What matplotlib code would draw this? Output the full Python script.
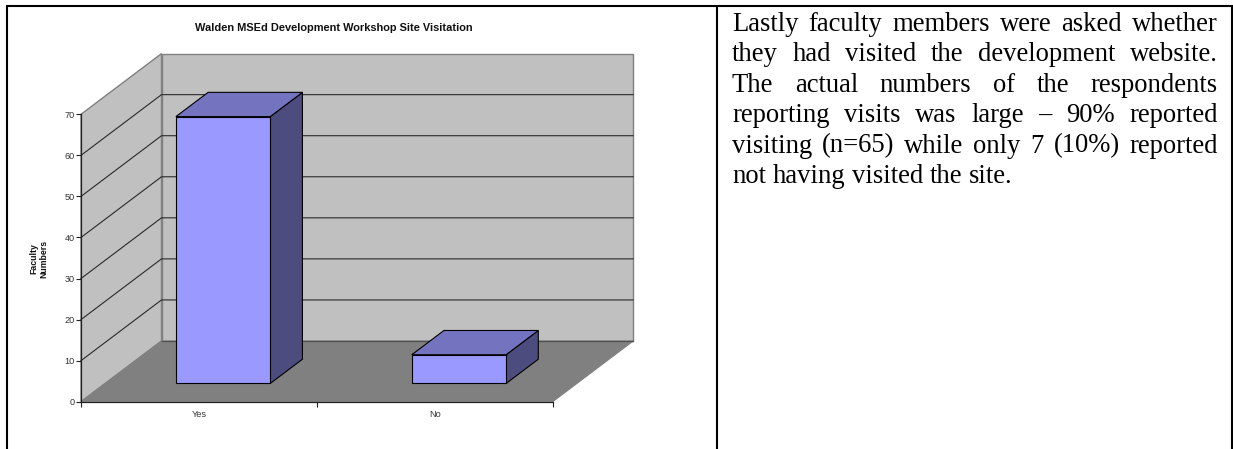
import matplotlib
matplotlib.use("Agg")
import matplotlib.pyplot as plt
from matplotlib.patches import Polygon

# dados do grafico
categorias = ["Yes", "No"]
valores = [65, 7]
yticks = [0, 10, 20, 30, 40, 50, 60, 70]
titulo = "Walden MSEd Development Workshop Site Visitation"
ylabel = "Faculty\nNumbers"
linhas = [
    "Lastly faculty members were asked whether",
    "they had visited the development website.",
    "The actual numbers of the respondents",
    "reporting visits was large – 90% reported",
    "visiting (n=65) while only 7 (10%) reported",
    "not having visited the site.",
]

W, H = 1233, 449
fig = plt.figure(figsize=(W / 100, H / 100), dpi=100)

# camada em pixels para a tabela e o texto
fundo = fig.add_axes([0, 0, 1, 1])
fundo.set_xlim(0, W)
fundo.set_ylim(H, 0)
fundo.axis("off")

# eixo do plano frontal do grafico
x0, x1, y0, y1 = 81, 552.7, 401.7, 114.3
ax = fig.add_axes([x0 / W, 1 - y0 / H, (x1 - x0) / W, (y0 - y1) / H])
ax.set_xlim(0, 2)
ax.set_ylim(0, 70)
ax.patch.set_alpha(0)

# deslocamento da profundidade, em unidades dos dados
DX = 80.5 / ((x1 - x0) / 2)
DY = 60.7 / ((y0 - y1) / 70)


def proj(x, y, d):
    return (x + d * DX, y + d * DY)


def face(pts, cor, borda="none", lw=0.8, z=1):
    ax.add_patch(Polygon([proj(*p) for p in pts], closed=True, facecolor=cor,
                         edgecolor=borda, linewidth=lw, clip_on=False, zorder=z))


topo = yticks[-1]
face([(0, 0, 0), (0, topo, 0), (0, topo, 1), (0, 0, 1)], "#c0c0c0", "#808080", 1.0)
face([(0, 0, 1), (0, topo, 1), (2, topo, 1), (2, 0, 1)], "#c0c0c0", "#808080", 1.0)
face([(0, 0, 0), (0, 0, 1), (2, 0, 1), (2, 0, 0)], "#808080", "#808080", 0.8)

# linhas de grade
for v in yticks[1:-1]:
    pts = [proj(0, v, 0), proj(0, v, 1), proj(2, v, 1)]
    ax.plot([p[0] for p in pts], [p[1] for p in pts], color="#2a2a2a", lw=0.8,
            clip_on=False, zorder=2)
a, b = proj(0, 0, 1), proj(2, 0, 1)
ax.plot([a[0], b[0]], [a[1], b[1]], color="#505050", lw=0.9, clip_on=False, zorder=2)

# barras
larg, d0, d1 = 0.2, 0.3, 0.7
for i, v in enumerate(valores):
    c = i + 0.5
    e, r = c - larg, c + larg
    face([(r, 0, d0), (r, 0, d1), (r, v, d1), (r, v, d0)], "#4c4c7f", "black", 0.8, 3)
    face([(e, v, d0), (e, v, d1), (r, v, d1), (r, v, d0)], "#7373bf", "black", 0.8, 3)
    face([(e, 0, d0), (e, v, d0), (r, v, d0), (r, 0, d0)], "#9999ff", "black", 0.8, 3)

# eixos
for s in ["top", "right"]:
    ax.spines[s].set_visible(False)
for s in ["left", "bottom"]:
    ax.spines[s].set_color("#222222")
    ax.spines[s].set_linewidth(0.9)
    ax.spines[s].set_zorder(4)
ax.set_yticks(yticks)
ax.set_xticks([0, 1, 2])
ax.set_xticklabels([])
ax.set_xticks([0.5, 1.5], minor=True)
ax.set_xticklabels(categorias, minor=True)
ax.tick_params(axis="x", which="major", length=3.6, width=0.8, color="#222222")
ax.tick_params(axis="x", which="minor", length=0, pad=6.2, labelsize=6.6,
               labelcolor="#333333", labelfontfamily="Liberation Sans")
ax.tick_params(axis="y", length=3.6, width=0.8, color="#222222", pad=1, labelsize=6.6,
               labelcolor="#333333", labelfontfamily="Liberation Sans")

fundo.text(334, 28, titulo, ha="center", va="center", fontsize=7.9, fontweight="bold",
           family="Liberation Sans", color="#111111")
fundo.text(39, 259, ylabel, ha="center", va="center", rotation=90, fontsize=6.3,
           fontweight="bold", family="Liberation Sans", color="#111111", linespacing=1.2)

# bordas da tabela
bordas = [((6, 1233), (6, 6)), ((6.5, 6.5), (6, 449)), ((717, 717), (6, 449)), ((1232, 1232), (6, 449))]
for xs, ys in bordas:
    fundo.plot(xs, ys, color="black", lw=1.5, solid_capstyle="butt")

# texto justificado
xe, xd = 732, 1218
base = 31
passo = 30.4
fs = 19.2
rend = fig.canvas.get_renderer()
for n, linha in enumerate(linhas):
    palavras = linha.split(" ")
    itens = [fundo.text(0, base + n * passo, p, fontsize=fs, family="Liberation Serif",
                        color="black", va="baseline") for p in palavras]
    largs = [t.get_window_extent(rend).width for t in itens]
    if n < len(linhas) - 1:
        esp = (xd - xe - sum(largs)) / (len(palavras) - 1)
    else:
        esp = fs * 100 / 72 * 0.25
    x = xe
    for t, l in zip(itens, largs):
        t.set_x(x)
        x += l + esp

fig.savefig("out.png", dpi=100)
